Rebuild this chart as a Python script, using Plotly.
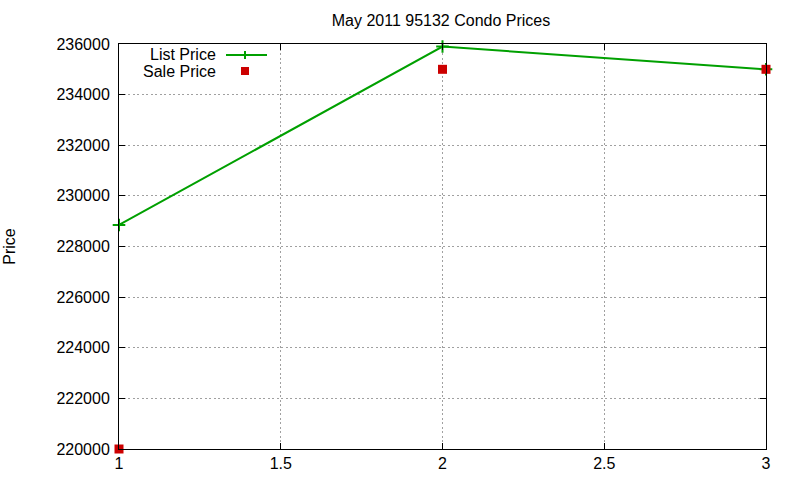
import plotly.graph_objects as go

months = [1, 2, 3]
list_price = [228850, 235900, 235000]
sale_price = [220000, 235000, 235000]
title = "May 2011 95132 Condo Prices"
y_ticks = [220000, 222000, 224000, 226000, 228000, 230000, 232000, 234000, 236000]
x_ticks = [1, 1.5, 2, 2.5, 3]

GREEN = "#00a000"
RED = "#cc0000"
FONT = "Liberation Sans, Arial, sans-serif"

fig = go.Figure()
fig.add_trace(go.Scatter(x=months, y=list_price, mode="lines+markers", name="List Price",
                         line=dict(color=GREEN, width=2),
                         marker=dict(symbol="cross-thin", size=9, line=dict(color=GREEN, width=2)),
                         cliponaxis=False, showlegend=False))
fig.add_trace(go.Scatter(x=months, y=sale_price, mode="markers", name="Sale Price",
                         marker=dict(symbol="square", size=9, color=RED),
                         cliponaxis=False, showlegend=False))

axis_common = dict(showline=True, linecolor="black", linewidth=1, mirror="allticks",
                   ticks="inside", ticklen=6, tickcolor="black", automargin=False,
                   showgrid=True, gridcolor="#a0a0a0", griddash="2px,2.5px", gridwidth=1,
                   zeroline=False, tickfont=dict(family=FONT, size=16, color="black"))

fig.update_xaxes(range=[1, 3], tickvals=x_ticks, ticktext=[str(v) for v in x_ticks], **axis_common)
fig.update_yaxes(range=[220000, 236000], tickvals=y_ticks, ticktext=[str(v) for v in y_ticks],
                 ticklabelstandoff=5,
                 title=dict(text="Price", font=dict(family=FONT, size=16, color="black"), standoff=36),
                 **axis_common)

# gnuplot-style legend (text right-aligned, sample to the right)
def px(x):
    return (x - 119) / 647
def py(y):
    return (449 - y) / 405

legend_items = [("List Price", 55), ("Sale Price", 71)]
for text, yy in legend_items:
    fig.add_annotation(text=text, xref="paper", yref="paper", x=px(218), y=py(yy),
                       xanchor="right", yanchor="middle", showarrow=False,
                       font=dict(family=FONT, size=16, color="black"))
fig.add_shape(type="line", xref="paper", yref="paper", x0=px(226), x1=px(267), y0=py(55), y1=py(55),
              line=dict(color=GREEN, width=2))
fig.add_shape(type="line", xref="paper", yref="paper", x0=px(245), x1=px(245), y0=py(51), y1=py(59),
              line=dict(color=GREEN, width=2))
fig.add_shape(type="rect", xref="paper", yref="paper", x0=px(241), x1=px(249), y0=py(67), y1=py(75),
              line=dict(width=0), fillcolor=RED)

fig.update_layout(
    width=800, height=480,
    margin=dict(l=119, r=34, t=44, b=31),
    paper_bgcolor="white", plot_bgcolor="white",
    title=dict(text=title, x=441 / 800, xanchor="center", y=1 - 20 / 480, yanchor="middle",
               font=dict(family=FONT, size=16, color="black")),
    font=dict(family=FONT, color="black"),
)

fig.write_html("out.html")
